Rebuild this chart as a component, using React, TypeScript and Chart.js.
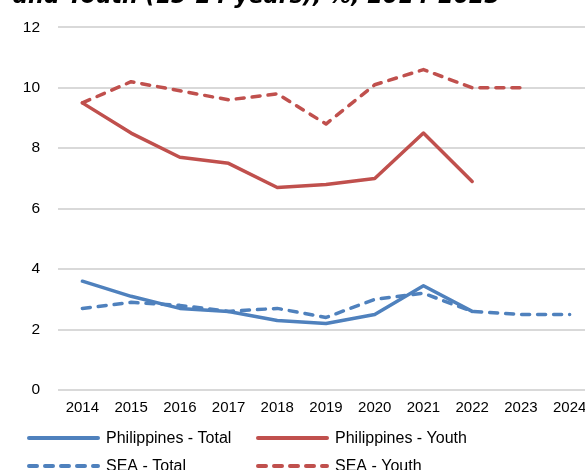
import React, { useEffect, useRef } from "react";
import { Chart, registerables } from "chart.js";

Chart.register(...registerables);

const years = ["2014", "2015", "2016", "2017", "2018", "2019", "2020", "2021", "2022", "2023", "2024"];
const philippinesTotal = [3.6, 3.1, 2.7, 2.6, 2.3, 2.2, 2.5, 3.45, 2.6, null, null];
const philippinesYouth = [9.5, 8.5, 7.7, 7.5, 6.7, 6.8, 7.0, 8.5, 6.9, null, null];
const seaTotal = [2.7, 2.9, 2.8, 2.6, 2.7, 2.4, 3.0, 3.2, 2.6, 2.5, 2.5];
const seaYouth = [9.5, 10.2, 9.9, 9.6, 9.8, 8.8, 10.1, 10.6, 10.0, 10.0, null];
const seriesLabels = ["Philippines - Total", "Philippines - Youth", "SEA - Total", "SEA - Youth"];
const titleText = "and Youth (15-24 years), %, 2014-2023";

const TICK_FONT = "'Liberation Sans', Arial, sans-serif";
const TITLE_FONT = "'DejaVu Sans', sans-serif";
const BLUE = "#4F81BD";
const RED = "#C0504D";
const DASH = [8, 8];

export default function App() {
  const ref = useRef<HTMLCanvasElement | null>(null);

  useEffect(() => {
    if (!ref.current) return;

    const titleLegend = {
      id: "titleLegend",
      afterDraw(chart: any) {
        const ctx = chart.ctx as CanvasRenderingContext2D;
        ctx.save();
        ctx.fillStyle = "#000";
        ctx.font = `bold italic 20px ${TITLE_FONT}`;
        const w20 = ctx.measureText(titleText).width;
        const size = (20 * 487) / w20;
        ctx.font = `bold italic ${size}px ${TITLE_FONT}`;
        ctx.textBaseline = "alphabetic";
        ctx.textAlign = "left";
        ctx.fillText(titleText, 13, 3);

        const cols = [29, 258];
        const rows = [438, 466];
        chart.data.datasets.forEach((ds: any, i: number) => {
          const x = cols[i % 2];
          const y = rows[Math.floor(i / 2)];
          ctx.strokeStyle = ds.borderColor;
          ctx.lineWidth = 4;
          ctx.lineCap = "round";
          ctx.setLineDash(ds.borderDash || []);
          ctx.beginPath();
          ctx.moveTo(x, y);
          ctx.lineTo(x + 69, y);
          ctx.stroke();
          ctx.setLineDash([]);
          ctx.fillStyle = "#000";
          ctx.font = `16px ${TICK_FONT}`;
          ctx.textBaseline = "middle";
          ctx.fillText(ds.label, x + 77, y + 1);
        });
        ctx.restore();
      },
    };

    const common = {
      pointRadius: 0,
      pointHoverRadius: 0,
      borderWidth: 3.5,
      tension: 0,
      fill: false,
      borderJoinStyle: "round" as const,
      borderCapStyle: "round" as const,
      spanGaps: false,
    };

    const chart = new Chart(ref.current, {
      type: "line",
      data: {
        labels: years,
        datasets: [
          { ...common, label: seriesLabels[0], data: philippinesTotal, borderColor: BLUE, backgroundColor: BLUE, order: 2 },
          { ...common, label: seriesLabels[1], data: philippinesYouth, borderColor: RED, backgroundColor: RED, order: 2 },
          { ...common, label: seriesLabels[2], data: seaTotal, borderColor: BLUE, backgroundColor: BLUE, borderDash: DASH, order: 1 },
          { ...common, label: seriesLabels[3], data: seaYouth, borderColor: RED, backgroundColor: RED, borderDash: DASH, order: 1 },
        ],
      },
      options: {
        responsive: false,
        animation: false,
        devicePixelRatio: 1,
        layout: { padding: { left: 0, top: 22, right: 26, bottom: 80 } },
        plugins: {
          legend: { display: false },
          title: { display: false },
          tooltip: { enabled: false },
        },
        scales: {
          x: {
            type: "category",
            offset: true,
            grid: { display: false, drawTicks: false },
            border: { display: false },
            ticks: {
              color: "#000",
              font: { family: TICK_FONT, size: 15 },
              padding: 9,
              maxRotation: 0,
              autoSkip: false,
            },
            afterFit: (scale: any) => {
              scale.height = 30;
            },
          },
          y: {
            min: 0,
            max: 12,
            grid: { color: "#D9D9D9", lineWidth: 2, drawTicks: false },
            border: { display: false },
            ticks: {
              stepSize: 2,
              color: "#000",
              font: { family: TICK_FONT, size: 15.5 },
              padding: 18,
            },
            afterFit: (scale: any) => {
              scale.width = 58;
            },
          },
        },
      },
      plugins: [titleLegend],
    });

    return () => chart.destroy();
  }, []);

  return (
    <div
      style={{
        position: "fixed",
        left: 0,
        top: 0,
        width: 585,
        height: 470,
        overflow: "hidden",
        background: "#fff",
      }}
    >
      <canvas ref={ref} width={620} height={500} style={{ display: "block" }} />
    </div>
  );
}
